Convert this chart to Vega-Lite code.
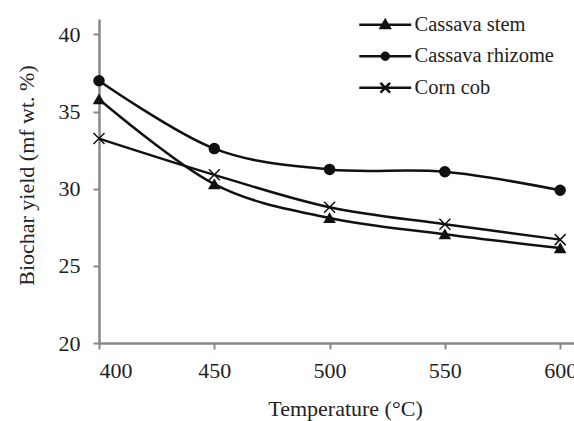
{
  "$schema": "https://vega.github.io/schema/vega-lite/v6.json",
  "width": 475,
  "height": 324,
  "autosize": {"type": "none"},
  "padding": {"left": 99, "top": 19, "right": 0, "bottom": 78},
  "background": "white",
  "config": {
    "view": {"stroke": null},
    "font": "Liberation Serif, Times New Roman, serif",
    "axis": {
      "grid": false,
      "domainColor": "#888888",
      "domainWidth": 2.5,
      "tickColor": "#888888",
      "tickWidth": 2,
      "tickSize": 6,
      "labelFont": "Liberation Serif, Times New Roman, serif",
      "labelFontSize": 22,
      "labelColor": "#222222",
      "titleFont": "Liberation Serif, Times New Roman, serif",
      "titleFontSize": 22,
      "titleFontWeight": "normal",
      "titleColor": "#222222"
    }
  },
  "data": {
    "values": [
      {"series": "Cassava stem", "temp": 400, "yield": 35.8},
      {"series": "Cassava stem", "temp": 450, "yield": 30.3},
      {"series": "Cassava stem", "temp": 500, "yield": 28.1},
      {"series": "Cassava stem", "temp": 550, "yield": 27.05},
      {"series": "Cassava stem", "temp": 600, "yield": 26.15},
      {"series": "Cassava rhizome", "temp": 400, "yield": 37.0},
      {"series": "Cassava rhizome", "temp": 450, "yield": 32.6},
      {"series": "Cassava rhizome", "temp": 500, "yield": 31.25},
      {"series": "Cassava rhizome", "temp": 550, "yield": 31.1},
      {"series": "Cassava rhizome", "temp": 600, "yield": 29.9},
      {"series": "Corn cob", "temp": 400, "yield": 33.25},
      {"series": "Corn cob", "temp": 450, "yield": 30.9},
      {"series": "Corn cob", "temp": 500, "yield": 28.8},
      {"series": "Corn cob", "temp": 550, "yield": 27.7},
      {"series": "Corn cob", "temp": 600, "yield": 26.7}
    ]
  },
  "encoding": {
    "x": {
      "field": "temp",
      "type": "quantitative",
      "scale": {"domain": [400, 606], "nice": false, "zero": false},
      "axis": {
        "values": [400, 450, 500, 550, 600],
        "title": "Temperature (°C)",
        "labelPadding": 11,
        "titleX": 246,
        "titleY": 72,
        "titleBaseline": "alphabetic"
      }
    },
    "y": {
      "field": "yield",
      "type": "quantitative",
      "scale": {"domain": [20, 41], "nice": false, "zero": false},
      "axis": {
        "values": [20, 25, 30, 35, 40],
        "title": "Biochar yield (mf wt. %)",
        "labelPadding": 13,
        "titleX": -66,
        "titleY": 156,
        "titleBaseline": "alphabetic",
        "titleAngle": 270
      }
    }
  },
  "layer": [
    {
      "mark": {"type": "line", "color": "#111111", "strokeWidth": 2.5, "interpolate": "cardinal"},
      "encoding": {"detail": {"field": "series"}}
    },
    {
      "mark": {"type": "point", "filled": true, "fill": "#111111", "stroke": "#111111", "strokeWidth": 1.5, "size": 100, "opacity": 1},
      "encoding": {
        "shape": {
          "field": "series",
          "type": "nominal",
          "scale": {
            "domain": ["Cassava stem", "Cassava rhizome", "Corn cob"],
            "range": ["triangle-up", "circle", "M-1.1,-1.1L1.1,1.1M-1.1,1.1L1.1,-1.1"]
          },
          "legend": null
        }
      }
    },
    {
      "transform": [{"filter": "datum.temp < 0"}],
      "mark": {"type": "point", "filled": false, "color": "#111111", "strokeWidth": 2.5, "opacity": 1},
      "encoding": {
        "shape": {
          "field": "series",
          "type": "nominal",
          "scale": {
            "domain": ["Cassava stem", "Cassava rhizome", "Corn cob"],
            "range": [
              "M-4.33,0L4.33,0M0,-0.75L0.75,0.55L-0.75,0.55ZM0,-0.317L0.375,0.333L-0.375,0.333ZM0,-0.013L0.1125,0.182L-0.1125,0.182Z",
              "M-4.33,0L4.33,0M-0.58,0A0.58,0.58 0 1,0 0.58,0A0.58,0.58 0 1,0 -0.58,0ZM-0.25,0A0.25,0.25 0 1,0 0.25,0A0.25,0.25 0 1,0 -0.25,0ZM-0.06,0L0.06,0",
              "M-4.33,0L4.33,0M-0.8,-0.8L0.8,0.8M-0.8,0.8L0.8,-0.8"
            ]
          },
          "legend": {
            "title": null,
            "orient": "none",
            "legendX": 276,
            "legendY": -4.5,
            "padding": 0,
            "symbolSize": 144,
            "symbolStrokeWidth": 2.5,
            "symbolOpacity": 1,
            "labelFont": "Liberation Serif, Times New Roman, serif",
            "labelFontSize": 20.5,
            "labelColor": "#222222",
            "labelOffset": 19,
            "rowPadding": 10.5
          }
        }
      }
    }
  ],
  "resolve": {"scale": {"shape": "independent"}, "legend": {"shape": "independent"}}
}
